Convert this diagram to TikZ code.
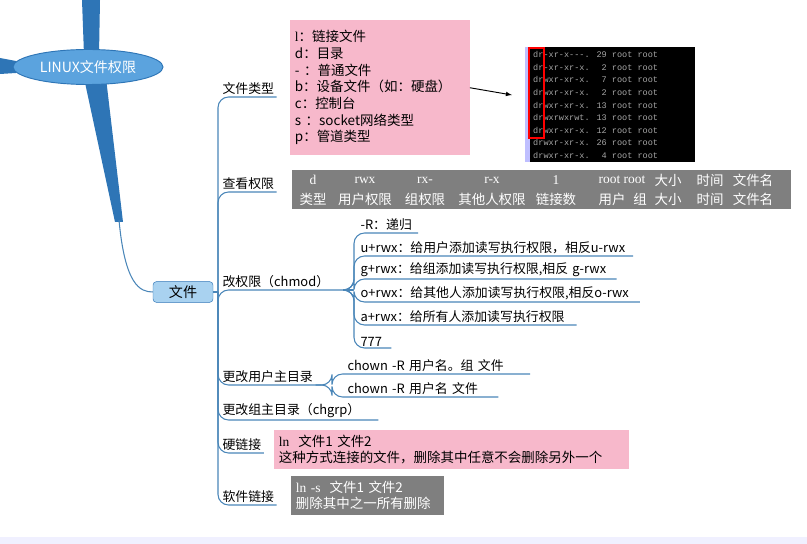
\documentclass[tikz,border=0pt]{standalone}
\usepackage{fontspec}
\setmainfont{Liberation Serif}
\newfontfamily\cjk{Noto Sans CJK SC}
\newfontfamily\term{Liberation Mono}
\usetikzlibrary{shapes.geometric,positioning}
\definecolor{trunk}{HTML}{2E75B6}
\definecolor{topic}{HTML}{5BA3DE}
\definecolor{filec}{HTML}{A9D2F0}
\definecolor{pinkbox}{HTML}{F7B8CB}
\definecolor{graybox}{HTML}{7F7F7F}
\definecolor{brc}{HTML}{4A86B8}
\tikzset{
  br/.style={draw=brc, line width=0.9pt, rounded corners=9pt},
  lbl/.style={anchor=south west, inner xsep=2pt, inner ysep=1.5pt, font=\cjk\fontsize{11}{13}\selectfont, align=left},
  pinknote/.style={fill=pinkbox, anchor=north west, inner sep=4pt, align=left, font=\fontsize{11.5}{14.2}\selectfont},
  graynote/.style={fill=graybox, text=white, anchor=north west, inner sep=4pt, align=left, font=\fontsize{11.5}{13.5}\selectfont},
}
\begin{document}
\begin{tikzpicture}[x=0.03cm,y=-0.03cm]
\useasboundingbox (0,0) rectangle (807,544);
\fill[blue!6] (0,537) rectangle (807,544);
% trunk
\fill[trunk] (82,0) -- (100,0) -- (99,55) -- (84,55) -- cycle;
\fill[trunk] (0,58) -- (16,61) -- (16,73) -- (0,74) -- cycle;
\fill[trunk] (84,78) -- (106,78) -- (123,222) -- (115,222) -- cycle;
\node[ellipse, fill=topic, draw=trunk, line width=0.8pt, minimum width=4.5cm, minimum height=1.05cm, text=white, font=\cjk\fontsize{12}{14}\selectfont] (root) at (88,67) {LINUX文件权限};
\node[rectangle, rounded corners=3pt, fill=filec, draw=trunk, minimum width=1.8cm, minimum height=0.55cm, font=\cjk\fontsize{12}{14}\selectfont] (file) at (183,292) {文件};
\coordinate (tr) at (119,220);
\draw[br] (tr) .. controls (125,285) and (140,292) .. (file.west);
\coordinate (fb) at (218,292);
% level 1
\node[lbl] (kind) at (220,97) {文件类型};
\node[lbl] (view) at (220,192) {查看权限};
\node[lbl, text width=3.85cm] (chmod) at (220,290) {改权限（chmod）};
\node[lbl] (chown) at (220,385) {更改用户主目录};
\node[lbl, text width=4.6cm] (chgrp) at (220,420) {更改组主目录（chgrp）};
\node[lbl] (hard) at (220,453) {硬链接};
\node[lbl] (soft) at (220,505) {软件链接};
\draw[br] (file.east) -- (fb);
\foreach \t in {kind,view,chmod,chown,chgrp,hard,soft}
  \draw[br] (fb) |- (\t.south east);
% file types
\node[pinknote, text width=5.1cm, minimum height=4.05cm] (types) at (290,20) {l\cjk：链接文件\\d\cjk：目录\\-\ \cjk：普通文件\\b\cjk：设备文件（如：硬盘）\\c\cjk：控制台\\s \cjk：socket网络类型\\p\cjk：管道类型};
% terminal
\fill[black] (525,47) rectangle (695,162);
\fill[blue!25] (525,47) rectangle (530,162);
\foreach \p/\n [count=\i] in {dr-xr-x---./29,dr-xr-xr-x./2,drwxr-xr-x./7,drwxr-xr-x./2,drwxr-xr-x./13,drwxrwxrwt./13,drwxr-xr-x./12,drwxr-xr-x./26,drwxr-xr-x./4}
  \node[anchor=west, inner sep=0pt, text=gray!70, font=\term\fontsize{7.3}{7.5}\selectfont] (ls\i) at (533,42+12.6*\i) {\p\hspace{0.8em}\makebox[1.2em][r]{\n} root root};
\draw[red, line width=1.4pt] (529,48) rectangle (544,138);
\coordinate (shot) at (512,95);
\draw[-latex, line width=0.8pt] (types.east) -- (shot);
% view
\node[graynote, minimum width=14.95cm, minimum height=1.15cm] (perm) at (292,170) {};
\foreach \x/\a/\b in {313/d/类型,365/rwx/用户权限,425/rx-/组权限,492/r-x/其他人权限,556/1/链接数,668/\cjk 大小/大小,710/\cjk 时间/时间,753/\cjk 文件名/文件名}
  {\node[text=white, font=\fontsize{11.5}{13}\selectfont] at (\x,180) {\a};
   \node[text=white, font=\cjk\fontsize{11.5}{13}\selectfont] at (\x,199) {\b};}
\node[text=white, font=\fontsize{11.5}{13}\selectfont] at (622,180) {root root};
\node[text=white, font=\cjk\fontsize{11.5}{13}\selectfont] at (612,199) {用户};
\node[text=white, font=\cjk\fontsize{11.5}{13}\selectfont] at (640,199) {组};
% chmod
\coordinate (cb) at (354,290);
\node[lbl, text width=1.65cm] (m1) at (358,233) {-R：递归};
\node[lbl, text width=8.1cm] (m2) at (358,256) {u+rwx：给用户添加读写执行权限，相反u-rwx};
\node[lbl, text width=7.6cm] (m3) at (358,279) {g+rwx：给组添加读写执行权限,相反 g-rwx};
\node[lbl, text width=8.3cm] (m4) at (358,302) {o+rwx：给其他人添加读写执行权限,相反o-rwx};
\node[lbl, text width=6.4cm] (m5) at (358,325) {a+rwx：给所有人添加读写执行权限};
\node[lbl, text width=0.85cm] (m6) at (358,348) {777};
\foreach \m in {m1,m2,m3,m4,m5,m6}
  \draw[br] (chmod.south east) -- (cb) |- (\m.south east);
% chown
\coordinate (ob) at (332,385);
\node[lbl, text width=5.4cm] (o1) at (345,374) {chown -R\ 用户名。组\ 文件};
\node[lbl, text width=4.45cm] (o2) at (345,397) {chown -R 用户名\ 文件};
\foreach \o in {o1,o2}
  \draw[br] (chown.south east) -- (ob) |- (\o.south east);
% links
\node[pinknote, text width=10.35cm, minimum height=1.1cm] (hardn) at (274,430) {ln\ \ \cjk 文件1\ 文件2\\\cjk 这种方式连接的文件，删除其中任意不会删除另外一个};
\node[graynote, text width=4.3cm, minimum height=1.15cm] (softn) at (291,476) {ln -s\ \ \cjk 文件1\ 文件2\\\cjk 删除其中之一所有删除};
\end{tikzpicture}
\end{document}
